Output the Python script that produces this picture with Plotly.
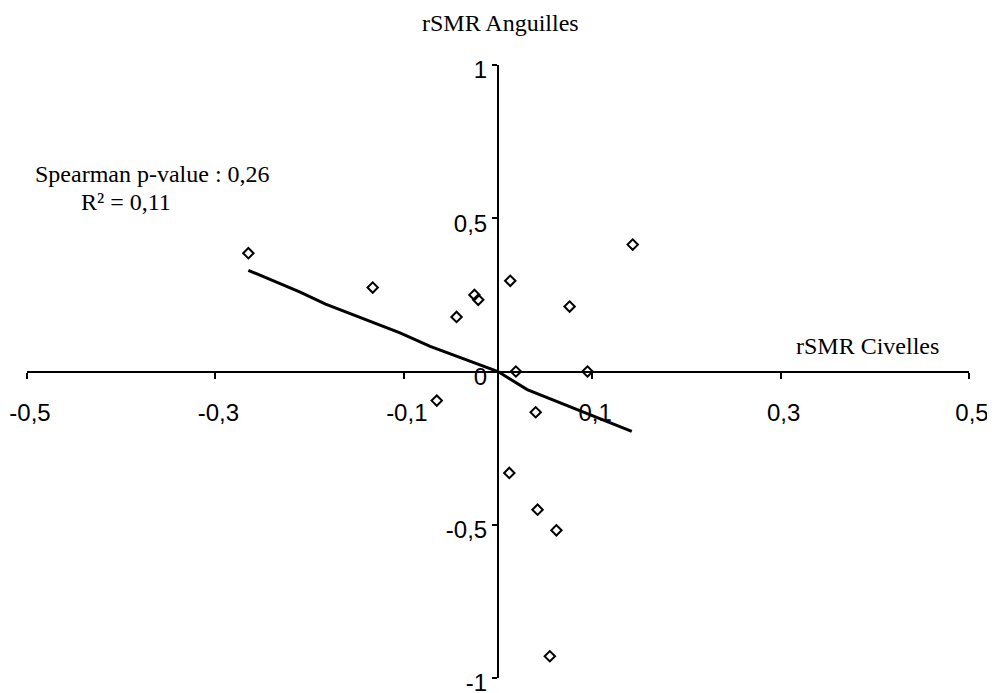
import plotly.graph_objects as go

# Data points (rSMR Civelles, rSMR Anguilles)
civelles = [-0.265, -0.133, -0.044, -0.025, -0.021, 0.013, 0.076, 0.143,
            -0.065, 0.019, 0.095, 0.040, 0.012, 0.042, 0.062, 0.055]
anguilles = [0.386, 0.274, 0.178, 0.250, 0.234, 0.296, 0.212, 0.414,
             -0.095, 0.0, 0.0, -0.133, -0.331, -0.451, -0.518, -0.929]

# Trend line vertices
trend_x = [-0.265, -0.210, -0.183, -0.104, -0.072, 0.0, 0.031, 0.142]
trend_y = [0.330, 0.259, 0.220, 0.126, 0.082, 0.0, -0.059, -0.195]

x_tickvals = [-0.5, -0.3, -0.1, 0.1, 0.3, 0.5]
x_ticktext = ["-0,5", "-0,3", "-0,1", "0,1", "0,3", "0,5"]
y_tickvals = [-1, -0.5, 0, 0.5, 1]
y_ticktext = ["-1", "-0,5", "0", "0,5", "1"]

OFF = 8  # page body margin
W, H = 987, 685
ML, MR, MT, MB = 19, 26, 57, 15
PW, PH = W - ML - MR, H - MT - MB


def px(xp):
    return (xp - OFF - ML) / PW


def py(yp):
    return (H - MB - (yp - OFF)) / PH


fig = go.Figure()
fig.add_trace(go.Scatter(x=trend_x, y=trend_y, mode="lines",
                         line=dict(color="black", width=3),
                         showlegend=False, hoverinfo="skip"))
fig.add_trace(go.Scatter(x=civelles, y=anguilles, mode="markers",
                         marker=dict(symbol="diamond-open", size=8, color="black",
                                     line=dict(color="black", width=2)),
                         showlegend=False, cliponaxis=False))

tickfont = dict(family="Liberation Sans, Arial", size=24, color="black")
serif = dict(family="Liberation Serif, Times New Roman", size=24, color="black")

fig.update_layout(
    width=W, height=H,
    margin=dict(l=ML, r=MR, t=MT, b=MB, autoexpand=False),
    paper_bgcolor="white", plot_bgcolor="white",
    xaxis=dict(range=[-0.5, 0.5], anchor="free", position=0.5, automargin=False,
               showgrid=False, zeroline=False, showline=True,
               linecolor="black", linewidth=2,
               ticks="outside", ticklen=6, tickwidth=2, tickcolor="black",
               tickvals=x_tickvals, ticktext=x_ticktext,
               tickfont=tickfont, ticklabelstandoff=14, ticklabelshift=3,
               ticklabeloverflow="allow"),
    yaxis=dict(range=[-1, 1], anchor="free", position=0.5, automargin=False,
               showgrid=False, zeroline=False, showline=True,
               linecolor="black", linewidth=2,
               ticks="outside", ticklen=5, tickwidth=2, tickcolor="black",
               tickvals=y_tickvals, ticktext=y_ticktext,
               tickfont=tickfont, ticklabelshift=5, ticklabelstandoff=0,
               ticklabeloverflow="allow"),
    annotations=[
        dict(text="rSMR Anguilles", xref="paper", yref="paper",
             x=px(500.5), y=py(23), xanchor="center", yanchor="middle",
             showarrow=False, font=serif),
        dict(text="rSMR Civelles", xref="paper", yref="paper",
             x=px(867), y=py(345.5), xanchor="center", yanchor="middle",
             showarrow=False, font=serif),
        dict(text="Spearman p-value : 0,26", xref="paper", yref="paper",
             x=px(33), y=py(174), xanchor="left", yanchor="middle",
             showarrow=False, font=serif),
        dict(text="R² = 0,11", xref="paper", yref="paper",
             x=px(79), y=py(202), xanchor="left", yanchor="middle",
             showarrow=False, font=serif),
    ],
)

fig.write_html("out.html")
